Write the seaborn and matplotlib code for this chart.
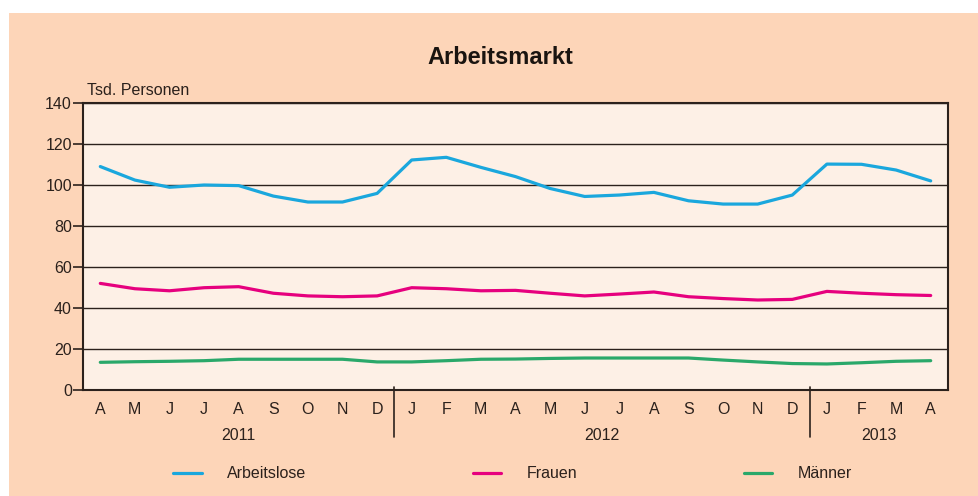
import matplotlib
matplotlib.use("Agg")
import matplotlib.pyplot as plt
from matplotlib.patches import Rectangle
import seaborn as sns
import pandas as pd
import numpy as np

months = ["A", "M", "J", "J", "A", "S", "O", "N", "D",
          "J", "F", "M", "A", "M", "J", "J", "A", "S", "O", "N", "D",
          "J", "F", "M", "A"]
years = ["2011", "2012", "2013"]
arbeitslose = [109.0, 102.4, 98.9, 100.0, 99.7, 94.6, 91.7, 91.7, 95.9,
               112.2, 113.5, 108.6, 104.1, 98.3, 94.4, 95.1, 96.4, 92.3, 90.7, 90.7, 95.1,
               110.2, 110.1, 107.3, 102.0]
frauen = [52.0, 49.4, 48.4, 49.9, 50.4, 47.2, 45.9, 45.5, 45.9,
          49.9, 49.4, 48.4, 48.6, 47.2, 45.9, 46.8, 47.8, 45.5, 44.6, 43.9, 44.2,
          48.1, 47.2, 46.5, 46.1]
maenner = [13.5, 13.8, 14.0, 14.3, 15.0, 15.0, 15.0, 15.0, 13.7,
           13.7, 14.3, 15.0, 15.1, 15.4, 15.6, 15.6, 15.6, 15.6, 14.6, 13.7, 12.9,
           12.7, 13.3, 14.0, 14.3]
series_names = ["Arbeitslose", "Frauen", "Männer"]
colors = ["#1aa7dd", "#e6007e", "#2aa86a"]

idx = np.arange(len(months))
df = pd.DataFrame({
    "t": np.concatenate([idx, idx, idx]),
    "wert": arbeitslose + frauen + maenner,
    "serie": np.repeat(series_names, len(months)),
})

sns.set_theme(style="white")
plt.rcParams["font.family"] = ["Liberation Sans", "DejaVu Sans"]

peach = "#fdd5b8"
plot_bg = "#fdf0e6"
dark = "#2b211c"
fs = 11.5

fig = plt.figure(figsize=(9.79, 4.96), dpi=100, facecolor="white")
fig.add_artist(Rectangle((9 / 979, 0), 1 - 9 / 979, 1 - 13 / 496,
                         transform=fig.transFigure, facecolor=peach,
                         edgecolor="none", zorder=-10))
ax = fig.add_axes([83 / 979, (496 - 390) / 496, (948 - 83) / 979, (390 - 103) / 496])
ax.set_facecolor(plot_bg)

sns.lineplot(data=df, x="t", y="wert", hue="serie", palette=colors,
             linewidth=2.3, ax=ax, legend=True, zorder=3)

ax.set_xlim(-0.5, len(months) - 0.5)
ax.set_ylim(0, 140)
ax.set_yticks(np.arange(0, 141, 20))
ax.yaxis.grid(True, color=dark, linewidth=1.0)
ax.set_axisbelow(True)
ax.set_xticks(idx)
ax.set_xticklabels(months)
ax.set_xticks(np.arange(-0.5, len(months), 1), minor=True)
ax.tick_params(axis="x", which="major", length=0, pad=9, labelsize=fs, labelcolor=dark)
ax.tick_params(axis="x", which="minor", length=3, direction="in", color="#9a8f88", width=0.8)
ax.tick_params(axis="y", which="major", length=7, width=1.2, color=dark, pad=1,
               labelsize=fs, labelcolor=dark, left=True)
ax.set_xlabel("")
ax.set_ylabel("")
for s in ax.spines.values():
    s.set_color(dark)
    s.set_linewidth(1.5)
    s.set_visible(True)

# year separators and labels
for xs in [8.5, 20.5]:
    ax.plot([xs, xs], [0.01, -0.165], transform=ax.get_xaxis_transform(),
            color=dark, linewidth=1.2, clip_on=False)
for label, xc in zip(years, [4, 14.5, 22.5]):
    ax.text(xc, -0.158, label, transform=ax.get_xaxis_transform(),
            ha="center", va="center", fontsize=fs, color=dark)

ax.text(0.005, 1.045, "Tsd. Personen", transform=ax.transAxes, ha="left",
        va="center", fontsize=fs, color=dark)
fig.text(500 / 979, 1 - 57 / 496, "Arbeitsmarkt", ha="center", va="center",
         fontsize=17, fontweight="bold", color="#1a1410")

handles, labels = ax.get_legend_handles_labels()
ax.get_legend().remove()
leg = fig.legend(handles, labels, loc="center left",
                 bbox_to_anchor=(173 / 979, 1 - 474 / 496), ncol=3,
                 frameon=False, fontsize=fs, handlelength=1.8,
                 handletextpad=1.6, columnspacing=10.4, borderpad=0,
                 borderaxespad=0)
for t in leg.get_texts():
    t.set_color(dark)

fig.savefig("out.png", dpi=100, facecolor=fig.get_facecolor())
